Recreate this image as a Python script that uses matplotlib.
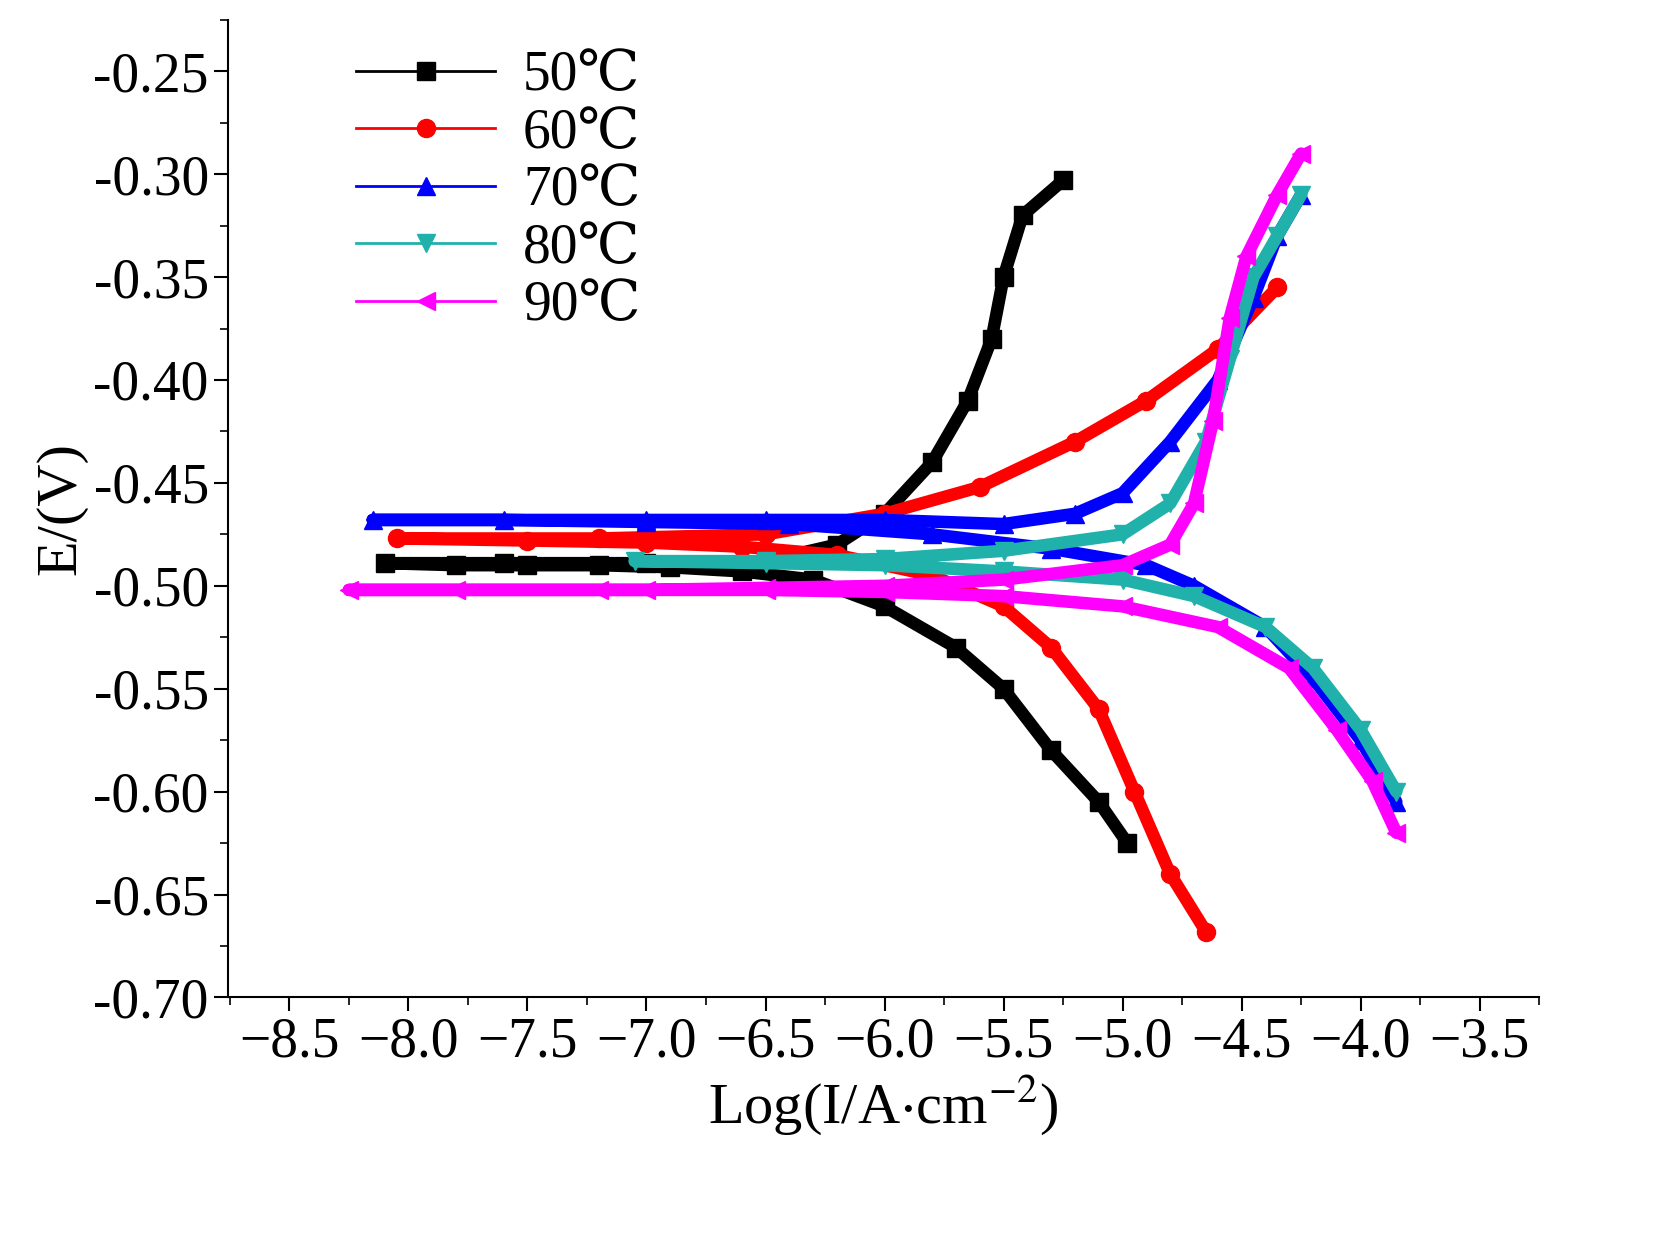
import numpy as np
import matplotlib.pyplot as plt
from matplotlib.ticker import MultipleLocator

plt.rcParams['font.family'] = ['Liberation Serif', 'DejaVu Serif']
plt.rcParams['mathtext.fontset'] = 'stix'

labels = ["50℃", "60℃", "70℃", "80℃", "90℃"]
colors = ["black", "red", "blue", "#20b2aa", "magenta"]
markers = ["s", "o", "^", "v", "<"]

# each curve runs from cathodic end -> corrosion potential -> anodic end
logi_50 = [-4.98, -5.1, -5.3, -5.5, -5.7, -6.0, -6.3, -6.6, -6.9, -7.2, -7.5, -7.8, -8.1,
           -7.6, -7.0, -6.5, -6.2, -6.0, -5.8, -5.65, -5.55, -5.5, -5.42, -5.25]
e_50 = [-0.625, -0.605, -0.58, -0.55, -0.53, -0.51, -0.497, -0.493, -0.491, -0.49, -0.49, -0.49, -0.489,
        -0.489, -0.489, -0.488, -0.48, -0.465, -0.44, -0.41, -0.38, -0.35, -0.32, -0.303]

logi_60 = [-4.65, -4.8, -4.95, -5.1, -5.3, -5.5, -5.8, -6.2, -6.6, -7.0, -7.5, -8.05,
           -7.2, -6.5, -6.0, -5.6, -5.2, -4.9, -4.6, -4.35]
e_60 = [-0.668, -0.64, -0.6, -0.56, -0.53, -0.51, -0.495, -0.485, -0.481, -0.479, -0.478, -0.477,
        -0.477, -0.475, -0.465, -0.452, -0.43, -0.41, -0.385, -0.355]

logi_70 = [-3.85, -4.0, -4.2, -4.4, -4.7, -4.9, -5.3, -5.8, -6.4, -7.0, -7.6, -8.15,
           -7.0, -6.5, -6.0, -5.5, -5.2, -5.0, -4.8, -4.6, -4.45, -4.35, -4.25]
e_70 = [-0.605, -0.575, -0.545, -0.52, -0.5, -0.49, -0.482, -0.475, -0.47, -0.469, -0.468, -0.468,
        -0.468, -0.468, -0.468, -0.47, -0.465, -0.455, -0.43, -0.4, -0.36, -0.33, -0.31]

logi_80 = [-3.85, -4.0, -4.2, -4.4, -4.7, -5.0, -5.5, -6.0, -6.5, -7.05,
           -6.5, -6.0, -5.5, -5.0, -4.8, -4.65, -4.55, -4.45, -4.35, -4.25]
e_80 = [-0.6, -0.57, -0.54, -0.52, -0.505, -0.497, -0.493, -0.49, -0.489, -0.488,
        -0.488, -0.487, -0.483, -0.475, -0.46, -0.43, -0.39, -0.35, -0.33, -0.31]

logi_90 = [-3.85, -3.95, -4.1, -4.3, -4.6, -5.0, -5.5, -6.0, -6.5, -7.2, -7.8, -8.25,
           -7.0, -6.5, -6.0, -5.5, -5.0, -4.8, -4.7, -4.62, -4.55, -4.48, -4.35, -4.25]
e_90 = [-0.62, -0.595, -0.57, -0.54, -0.52, -0.51, -0.505, -0.503, -0.502, -0.502, -0.502, -0.502,
        -0.502, -0.501, -0.5, -0.497, -0.49, -0.48, -0.46, -0.42, -0.37, -0.34, -0.31, -0.29]

xs = [logi_50, logi_60, logi_70, logi_80, logi_90]
ys = [e_50, e_60, e_70, e_80, e_90]

fig = plt.figure(figsize=(16.73, 12.36), dpi=100)
ax = fig.add_axes([0.136, 0.193, 0.784, 0.791])

for x, y, c, m, lab in zip(xs, ys, colors, markers, labels):
    ax.plot(x, y, color=c, lw=2, marker=m, markersize=13, label=lab)
    # dense branches drawn as thick bands
    ax.plot(x, y, color=c, lw=9, solid_capstyle='round')

ax.set_xlim(-8.76, -3.25)
ax.set_ylim(-0.70, -0.225)
ax.xaxis.set_major_locator(MultipleLocator(0.5))
ax.xaxis.set_minor_locator(MultipleLocator(0.25))
ax.yaxis.set_minor_locator(MultipleLocator(0.025))
ax.set_yticks(np.arange(-0.70, -0.249, 0.05))
ax.set_yticklabels([f"{v:.2f}" for v in np.arange(-0.70, -0.249, 0.05)])
ax.spines['top'].set_visible(False)
ax.spines['right'].set_visible(False)
for s in ['left', 'bottom']:
    ax.spines[s].set_linewidth(1.5)
ax.tick_params(labelsize=40, width=1.5, length=10)
ax.tick_params(which='minor', width=1.2, length=6)
ax.set_xlabel(r"Log(I/A$\cdot$cm$^{-2}$)", fontsize=42)
ax.set_ylabel("E/(V)", fontsize=42)

ax.legend(loc='upper left', bbox_to_anchor=(0.06, 1.02), frameon=False, fontsize=40,
          handlelength=2.5, labelspacing=0.1, handletextpad=0.5)

fig.savefig("out.png", dpi=100)
